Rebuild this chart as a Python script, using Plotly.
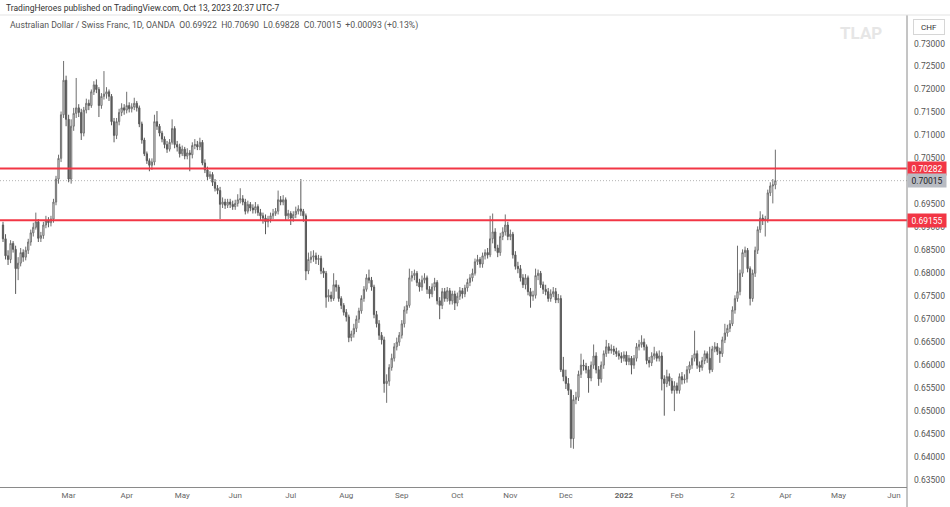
import numpy as np
import pandas as pd
import plotly.graph_objects as go

# ---------------- data (AUD/CHF daily, OANDA) ----------------
START = "2021-01-22"

closes = [
    .6875, .6838, .6830, .6865, .6852, .6810, .6822, .6845, .6835, .6850,
    .6868, .6888, .6900, .6912, .6876, .6882, .6905, .6915, .6910, .6918,
    .6955, .7005, .7050, .7145, .7220, .7135, .7005, .7120, .7148, .7160,
    .7150, .7105, .7155, .7170, .7165, .7195, .7210, .7200, .7165, .7185,
    .7190, .7195, .7185, .7130, .7100, .7130, .7150, .7160, .7155, .7165,
    .7158, .7162, .7170, .7160, .7125, .7090, .7060, .7045, .7035, .7042,
    .7130, .7120, .7105, .7092, .7080, .7070, .7085, .7115, .7080, .7075,
    .7060, .7070, .7055, .7062, .7058, .7078, .7080, .7075, .7085, .7040,
    .7025, .7010, .7015, .6998, .6985, .6980, .6950, .6955, .6948, .6955,
    .6950, .6945, .6952, .6960, .6962, .6955, .6935, .6950, .6942, .6938,
    .6945, .6932, .6925, .6920, .6912, .6918, .6925, .6930, .6935, .6960,
    .6955, .6960, .6925, .6930, .6920, .6928, .6935, .6940, .6935, .6925,
    .6805, .6830, .6835, .6838, .6830, .6832, .6805, .6800, .6748, .6752,
    .6745, .6775, .6770, .6745, .6730, .6715, .6705, .6660, .6668, .6680,
    .6700, .6718, .6745, .6765, .6790, .6785, .6770, .6710, .6690, .6665,
    .6655, .6560, .6565, .6595, .6615, .6640, .6650, .6665, .6690, .6720,
    .6730, .6790, .6795, .6800, .6780, .6770, .6785, .6790, .6765, .6755,
    .6770, .6780, .6740, .6730, .6760, .6745, .6762, .6740, .6755, .6735,
    .6750, .6762, .6755, .6768, .6780, .6790, .6800, .6825, .6830, .6820,
    .6838, .6845, .6840, .6875, .6890, .6855, .6845, .6880, .6890, .6905,
    .6880, .6885, .6840, .6815, .6810, .6790, .6775, .6790, .6760, .6750,
    .6752, .6795, .6800, .6775, .6765, .6760, .6745, .6755, .6760, .6742,
    .6745, .6590, .6575, .6560, .6545, .6440, .6525, .6530, .6580, .6600,
    .6598, .6590, .6572, .6600, .6620, .6590, .6570, .6600, .6625, .6640,
    .6632, .6635, .6630, .6625, .6620, .6615, .6622, .6608, .6615, .6600,
    .6615, .6640, .6645, .6650, .6640, .6610, .6605, .6620, .6625, .6615,
    .6620, .6570, .6560, .6575, .6565, .6545, .6555, .6545, .6575, .6568,
    .6570, .6590, .6600, .6615, .6625, .6600, .6595, .6610, .6625, .6615,
    .6590, .6635, .6640, .6630, .6625, .6655, .6670, .6680, .6690, .6720,
    .6745, .6760, .6800, .6845, .6850, .6810, .6745, .6800, .6850, .6895,
    .6920, .6915, .6918, .6975, .6990, .69922, .70015,
]

opens = [
    .6905, .6875, .6838, .6830, .6865, .6852, .6810, .6822, .6845, .6835,
    .6850, .6868, .6888, .6900, .6912, .6876, .6882, .6905, .6915, .6910,
    .6918, .6955, .7005, .7050, .7145, .7220, .7135, .7005, .7120, .7148,
    .7160, .7150, .7105, .7155, .7170, .7165, .7195, .7210, .7200, .7165,
    .7185, .7190, .7195, .7185, .7130, .7100, .7130, .7150, .7160, .7155,
    .7165, .7158, .7162, .7170, .7160, .7125, .7090, .7060, .7045, .7035,
    .7042, .7130, .7120, .7105, .7092, .7080, .7070, .7085, .7115, .7080,
    .7075, .7060, .7070, .7055, .7062, .7058, .7078, .7080, .7075, .7085,
    .7040, .7025, .7010, .7015, .6998, .6985, .6980, .6950, .6955, .6948,
    .6955, .6950, .6945, .6952, .6960, .6962, .6955, .6935, .6950, .6942,
    .6938, .6945, .6932, .6925, .6920, .6912, .6918, .6925, .6930, .6935,
    .6960, .6955, .6960, .6925, .6930, .6920, .6928, .6935, .6940, .6935,
    .6925, .6805, .6830, .6835, .6838, .6830, .6832, .6805, .6800, .6748,
    .6752, .6745, .6775, .6770, .6745, .6730, .6715, .6705, .6660, .6668,
    .6680, .6700, .6718, .6745, .6765, .6790, .6785, .6770, .6710, .6690,
    .6665, .6655, .6560, .6565, .6595, .6615, .6640, .6650, .6665, .6690,
    .6720, .6730, .6790, .6795, .6800, .6780, .6770, .6785, .6790, .6765,
    .6755, .6770, .6780, .6740, .6730, .6760, .6745, .6762, .6740, .6755,
    .6735, .6750, .6762, .6755, .6768, .6780, .6790, .6800, .6825, .6830,
    .6820, .6838, .6845, .6840, .6875, .6890, .6855, .6845, .6880, .6890,
    .6905, .6880, .6885, .6840, .6815, .6810, .6790, .6775, .6790, .6760,
    .6750, .6752, .6795, .6800, .6775, .6765, .6760, .6745, .6755, .6760,
    .6742, .6745, .6590, .6575, .6560, .6545, .6440, .6525, .6530, .6580,
    .6600, .6598, .6590, .6572, .6600, .6620, .6590, .6570, .6600, .6625,
    .6640, .6632, .6635, .6630, .6625, .6620, .6615, .6622, .6608, .6615,
    .6600, .6615, .6640, .6645, .6650, .6640, .6610, .6605, .6620, .6625,
    .6615, .6620, .6570, .6560, .6575, .6565, .6545, .6555, .6545, .6575,
    .6568, .6570, .6590, .6600, .6615, .6625, .6600, .6595, .6610, .6625,
    .6615, .6590, .6635, .6640, .6630, .6625, .6655, .6670, .6680, .6690,
    .6720, .6745, .6760, .6800, .6845, .6850, .6810, .6745, .6800, .6850,
    .6895, .6920, .6915, .6918, .6975, .6990, .69922,
]

highs = [
    .6912, .6885, .6850, .6872, .6870, .6860, .6835, .6855, .6852, .6858,
    .6875, .6895, .6910, .6932, .6918, .6890, .6912, .6925, .6922, .6925,
    .6962, .7012, .7058, .7152, .7262, .7230, .7145, .7135, .7160, .7225,
    .7168, .7158, .7162, .7180, .7178, .7200, .7218, .7222, .7205, .7192,
    .7240, .7205, .7200, .7190, .7138, .7138, .7158, .7170, .7168, .7195,
    .7172, .7170, .7182, .7175, .7165, .7130, .7095, .7065, .7050, .7050,
    .7145, .7153, .7125, .7110, .7098, .7088, .7092, .7135, .7120, .7088,
    .7082, .7078, .7075, .7072, .7068, .7085, .7092, .7088, .7095, .7090,
    .7048, .7032, .7022, .7020, .7005, .6992, .6988, .6965, .6962, .6962,
    .6962, .6958, .6960, .6972, .6985, .6970, .6962, .6958, .6955, .6950,
    .6955, .6950, .6940, .6932, .6928, .6925, .6932, .6940, .6942, .6980,
    .6968, .6970, .6965, .6938, .6935, .6935, .6945, .6948, .7005, .6940,
    .6930, .6845, .6848, .6850, .6845, .6840, .6838, .6812, .6805, .6765,
    .6760, .6800, .6785, .6775, .6750, .6735, .6722, .6710, .6675, .6690,
    .6708, .6725, .6752, .6772, .6798, .6808, .6792, .6775, .6718, .6698,
    .6672, .6662, .6580, .6602, .6625, .6648, .6660, .6672, .6698, .6728,
    .6740, .6810, .6805, .6808, .6805, .6788, .6795, .6800, .6795, .6772,
    .6778, .6790, .6785, .6748, .6768, .6768, .6770, .6768, .6762, .6762,
    .6758, .6770, .6768, .6775, .6788, .6798, .6810, .6832, .6840, .6835,
    .6845, .6852, .6855, .6925, .6930, .6898, .6862, .6888, .6900, .6928,
    .6912, .6895, .6890, .6848, .6825, .6818, .6798, .6798, .6795, .6768,
    .6762, .6810, .6808, .6805, .6782, .6775, .6768, .6765, .6770, .6768,
    .6755, .6752, .6618, .6590, .6572, .6548, .6535, .6542, .6588, .6625,
    .6612, .6605, .6598, .6608, .6645, .6628, .6598, .6608, .6632, .6655,
    .6648, .6645, .6642, .6638, .6632, .6628, .6630, .6630, .6622, .6620,
    .6622, .6648, .6655, .6665, .6658, .6645, .6618, .6628, .6640, .6630,
    .6632, .6628, .6578, .6590, .6582, .6572, .6565, .6562, .6582, .6585,
    .6580, .6598, .6608, .6622, .6675, .6632, .6608, .6618, .6632, .6630,
    .6640, .6642, .6650, .6648, .6638, .6662, .6690, .6688, .6698, .6728,
    .6752, .6860, .6808, .6852, .6858, .6855, .6815, .6808, .6858, .6902,
    .6935, .6928, .6925, .6982, .6998, .7005, .70690,
]

lows = [
    .6868, .6830, .6818, .6822, .6845, .6755, .6785, .6815, .6825, .6828,
    .6842, .6860, .6880, .6895, .6868, .6868, .6875, .6898, .6900, .6902,
    .6910, .6948, .6995, .7042, .7138, .7120, .6998, .6995, .7110, .7138,
    .7140, .7090, .7098, .7148, .7155, .7160, .7188, .7192, .7140, .7158,
    .7178, .7180, .7175, .7122, .7085, .7092, .7122, .7142, .7145, .7148,
    .7150, .7150, .7155, .7152, .7118, .7082, .7055, .7038, .7022, .7025,
    .7035, .7112, .7098, .7085, .7072, .7062, .7065, .7080, .7072, .7065,
    .7052, .7055, .7048, .7048, .7022, .7050, .7070, .7068, .7068, .7035,
    .7018, .7002, .7005, .6990, .6978, .6972, .6918, .6942, .6940, .6942,
    .6942, .6938, .6938, .6945, .6952, .6948, .6928, .6930, .6935, .6930,
    .6930, .6925, .6915, .6908, .6885, .6900, .6910, .6918, .6925, .6928,
    .6948, .6948, .6915, .6918, .6905, .6912, .6920, .6928, .6925, .6912,
    .6785, .6798, .6822, .6825, .6820, .6818, .6798, .6790, .6725, .6738,
    .6738, .6740, .6760, .6738, .6722, .6708, .6695, .6650, .6652, .6660,
    .6672, .6692, .6712, .6738, .6760, .6778, .6762, .6702, .6682, .6655,
    .6645, .6540, .6518, .6555, .6588, .6608, .6632, .6642, .6658, .6682,
    .6712, .6725, .6782, .6785, .6772, .6760, .6762, .6778, .6755, .6745,
    .6748, .6762, .6732, .6700, .6722, .6738, .6738, .6732, .6732, .6720,
    .6728, .6742, .6745, .6748, .6760, .6772, .6782, .6795, .6818, .6812,
    .6812, .6830, .6832, .6835, .6865, .6848, .6835, .6838, .6872, .6882,
    .6872, .6872, .6832, .6808, .6800, .6782, .6768, .6765, .6752, .6725,
    .6740, .6745, .6785, .6768, .6755, .6752, .6738, .6738, .6748, .6735,
    .6735, .6585, .6565, .6548, .6535, .6420, .6418, .6515, .6522, .6572,
    .6588, .6582, .6540, .6565, .6592, .6582, .6555, .6562, .6592, .6618,
    .6625, .6625, .6622, .6618, .6612, .6605, .6608, .6600, .6600, .6580,
    .6592, .6608, .6632, .6638, .6632, .6602, .6595, .6598, .6612, .6608,
    .6608, .6545, .6490, .6552, .6555, .6538, .6500, .6538, .6538, .6558,
    .6560, .6562, .6582, .6592, .6608, .6592, .6585, .6588, .6602, .6605,
    .6582, .6585, .6628, .6622, .6605, .6618, .6648, .6662, .6672, .6685,
    .6712, .6738, .6752, .6792, .6835, .6802, .6730, .6738, .6792, .6842,
    .6888, .6905, .6880, .6910, .6968, .6952, .69828,
]

tick_dates = ["2021-03-01", "2021-04-01", "2021-05-03", "2021-06-01", "2021-07-01",
              "2021-08-02", "2021-09-01", "2021-10-01", "2021-11-01", "2021-12-01",
              "2022-01-03", "2022-02-01", "2022-03-03", "2022-04-01", "2022-05-02",
              "2022-06-01"]
tick_labels = ["Mar", "Apr", "May", "Jun", "Jul", "Aug", "Sep", "Oct", "Nov", "Dec",
               "<b>2022</b>", "Feb", "2", "Apr", "May", "Jun"]

# price-axis ticks shown (0.70000 sits under the last-price box in the original)
price_ticks = [0.635, 0.640, 0.645, 0.650, 0.655, 0.660, 0.665, 0.670, 0.675, 0.680,
               0.685, 0.690, 0.695, 0.705, 0.710, 0.715, 0.720, 0.725, 0.730]

level_upper = 0.70282
level_lower = 0.69155
last_close = closes[-1]

title_text = "TradingHeroes published on TradingView.com, Oct 13, 2023 20:37 UTC-7"
legend_text = ("Australian Dollar / Swiss Franc, 1D, OANDA&nbsp;&nbsp;O0.69922&nbsp;&nbsp;H0.70690"
               "&nbsp;&nbsp;L0.69828&nbsp;&nbsp;C0.70015&nbsp;&nbsp;+0.00093 (+0.13%)")

# ---------------- build ----------------
cal = pd.bdate_range(START, "2022-07-29")
x = np.arange(len(closes))
tickvals = [int(cal.get_loc(pd.Timestamp(d))) for d in tick_dates]

FONT = "Roboto, Arial, sans-serif"
W, H = 950, 507
ML, MR, MT, MB = 0, 43, 16, 20
plot_h = H - MT - MB

fig = go.Figure()
fig.add_trace(go.Candlestick(
    x=x, open=opens, high=highs, low=lows, close=closes,
    increasing=dict(line=dict(color="#6f6f6f", width=1), fillcolor="#ffffff"),
    decreasing=dict(line=dict(color="#5a5a5a", width=1), fillcolor="#5a5a5a"),
    whiskerwidth=0, hoverinfo="skip", showlegend=False,
))

for lvl in (level_upper, level_lower):
    fig.add_shape(type="line", xref="paper", x0=0, x1=1, yref="y", y0=lvl, y1=lvl,
                  line=dict(color="#f23645", width=2))
fig.add_shape(type="line", xref="paper", x0=0, x1=1, yref="y", y0=last_close, y1=last_close,
              line=dict(color="#b4b4b4", width=1, dash="1px,2px"))

# frame lines
fig.add_shape(type="line", xref="paper", yref="paper", x0=1, x1=1, y0=-MB / plot_h, y1=1 + 1 / plot_h,
              line=dict(color="#8a8a8a", width=1))
fig.add_shape(type="line", xref="paper", yref="paper", x0=0, x1=1 + MR / (W - ML - MR), y0=1 + 1 / plot_h,
              y1=1 + 1 / plot_h, line=dict(color="#e3e3e3", width=1))

def price_box(val, bg, fg):
    fig.add_annotation(xref="paper", x=1, xanchor="left", yref="y", y=val, yanchor="middle",
                       text=f"{val:.5f}", showarrow=False, bgcolor=bg,
                       font=dict(family=FONT, size=8.5, color=fg), width=36, height=11,
                       borderpad=1, xshift=0)

price_box(level_upper, "#f23645", "#ffffff")
price_box(last_close, "#b8bbc2", "#222222")
price_box(level_lower, "#f23645", "#ffffff")

fig.add_annotation(xref="paper", yref="paper", x=0.004, y=1 + 8 / plot_h, xanchor="left", yanchor="middle",
                   text=title_text, showarrow=False, font=dict(family=FONT, size=8.5, color="#333333"))
fig.add_annotation(xref="paper", yref="paper", x=8 / 907, y=1 - 9 / plot_h, xanchor="left", yanchor="middle",
                   text=legend_text, showarrow=False, font=dict(family=FONT, size=8.7, color="#555555"))
fig.add_annotation(xref="paper", yref="paper", x=861 / 907, y=1 - 17 / plot_h, xanchor="center", yanchor="middle",
                   text="<b>TLAP</b>", showarrow=False, font=dict(family=FONT, size=17, color="#e6e6e6"))
fig.add_annotation(xref="paper", yref="paper", x=929 / 907, y=1 - 10.5 / plot_h, xanchor="center", yanchor="middle",
                   text="CHF", showarrow=False, font=dict(family=FONT, size=8, color="#333333"),
                   bordercolor="#d6d6d6", borderwidth=1, width=28, height=12, bgcolor="#ffffff")

fig.update_layout(
    width=W, height=H, margin=dict(l=ML, r=MR, t=MT, b=MB),
    paper_bgcolor="#ffffff", plot_bgcolor="#ffffff",
    showlegend=False, hovermode=False, dragmode=False,
    xaxis=dict(range=[-1.19, 358.16], tickmode="array", tickvals=tickvals, ticktext=tick_labels,
               showgrid=False, zeroline=False, showline=True, linecolor="#8a8a8a", linewidth=1,
               ticks="", tickfont=dict(family=FONT, size=8, color="#666666"),
               rangeslider=dict(visible=False), fixedrange=True),
    yaxis=dict(side="right", range=[0.63348, 0.73599], tickmode="array", tickvals=price_ticks,
               tickformat=".5f", showgrid=False, zeroline=False, showline=False, ticks="",
               ticklabelstandoff=6, tickfont=dict(family=FONT, size=8.5, color="#555555"),
               fixedrange=True),
)

fig.write_html("out.html")
